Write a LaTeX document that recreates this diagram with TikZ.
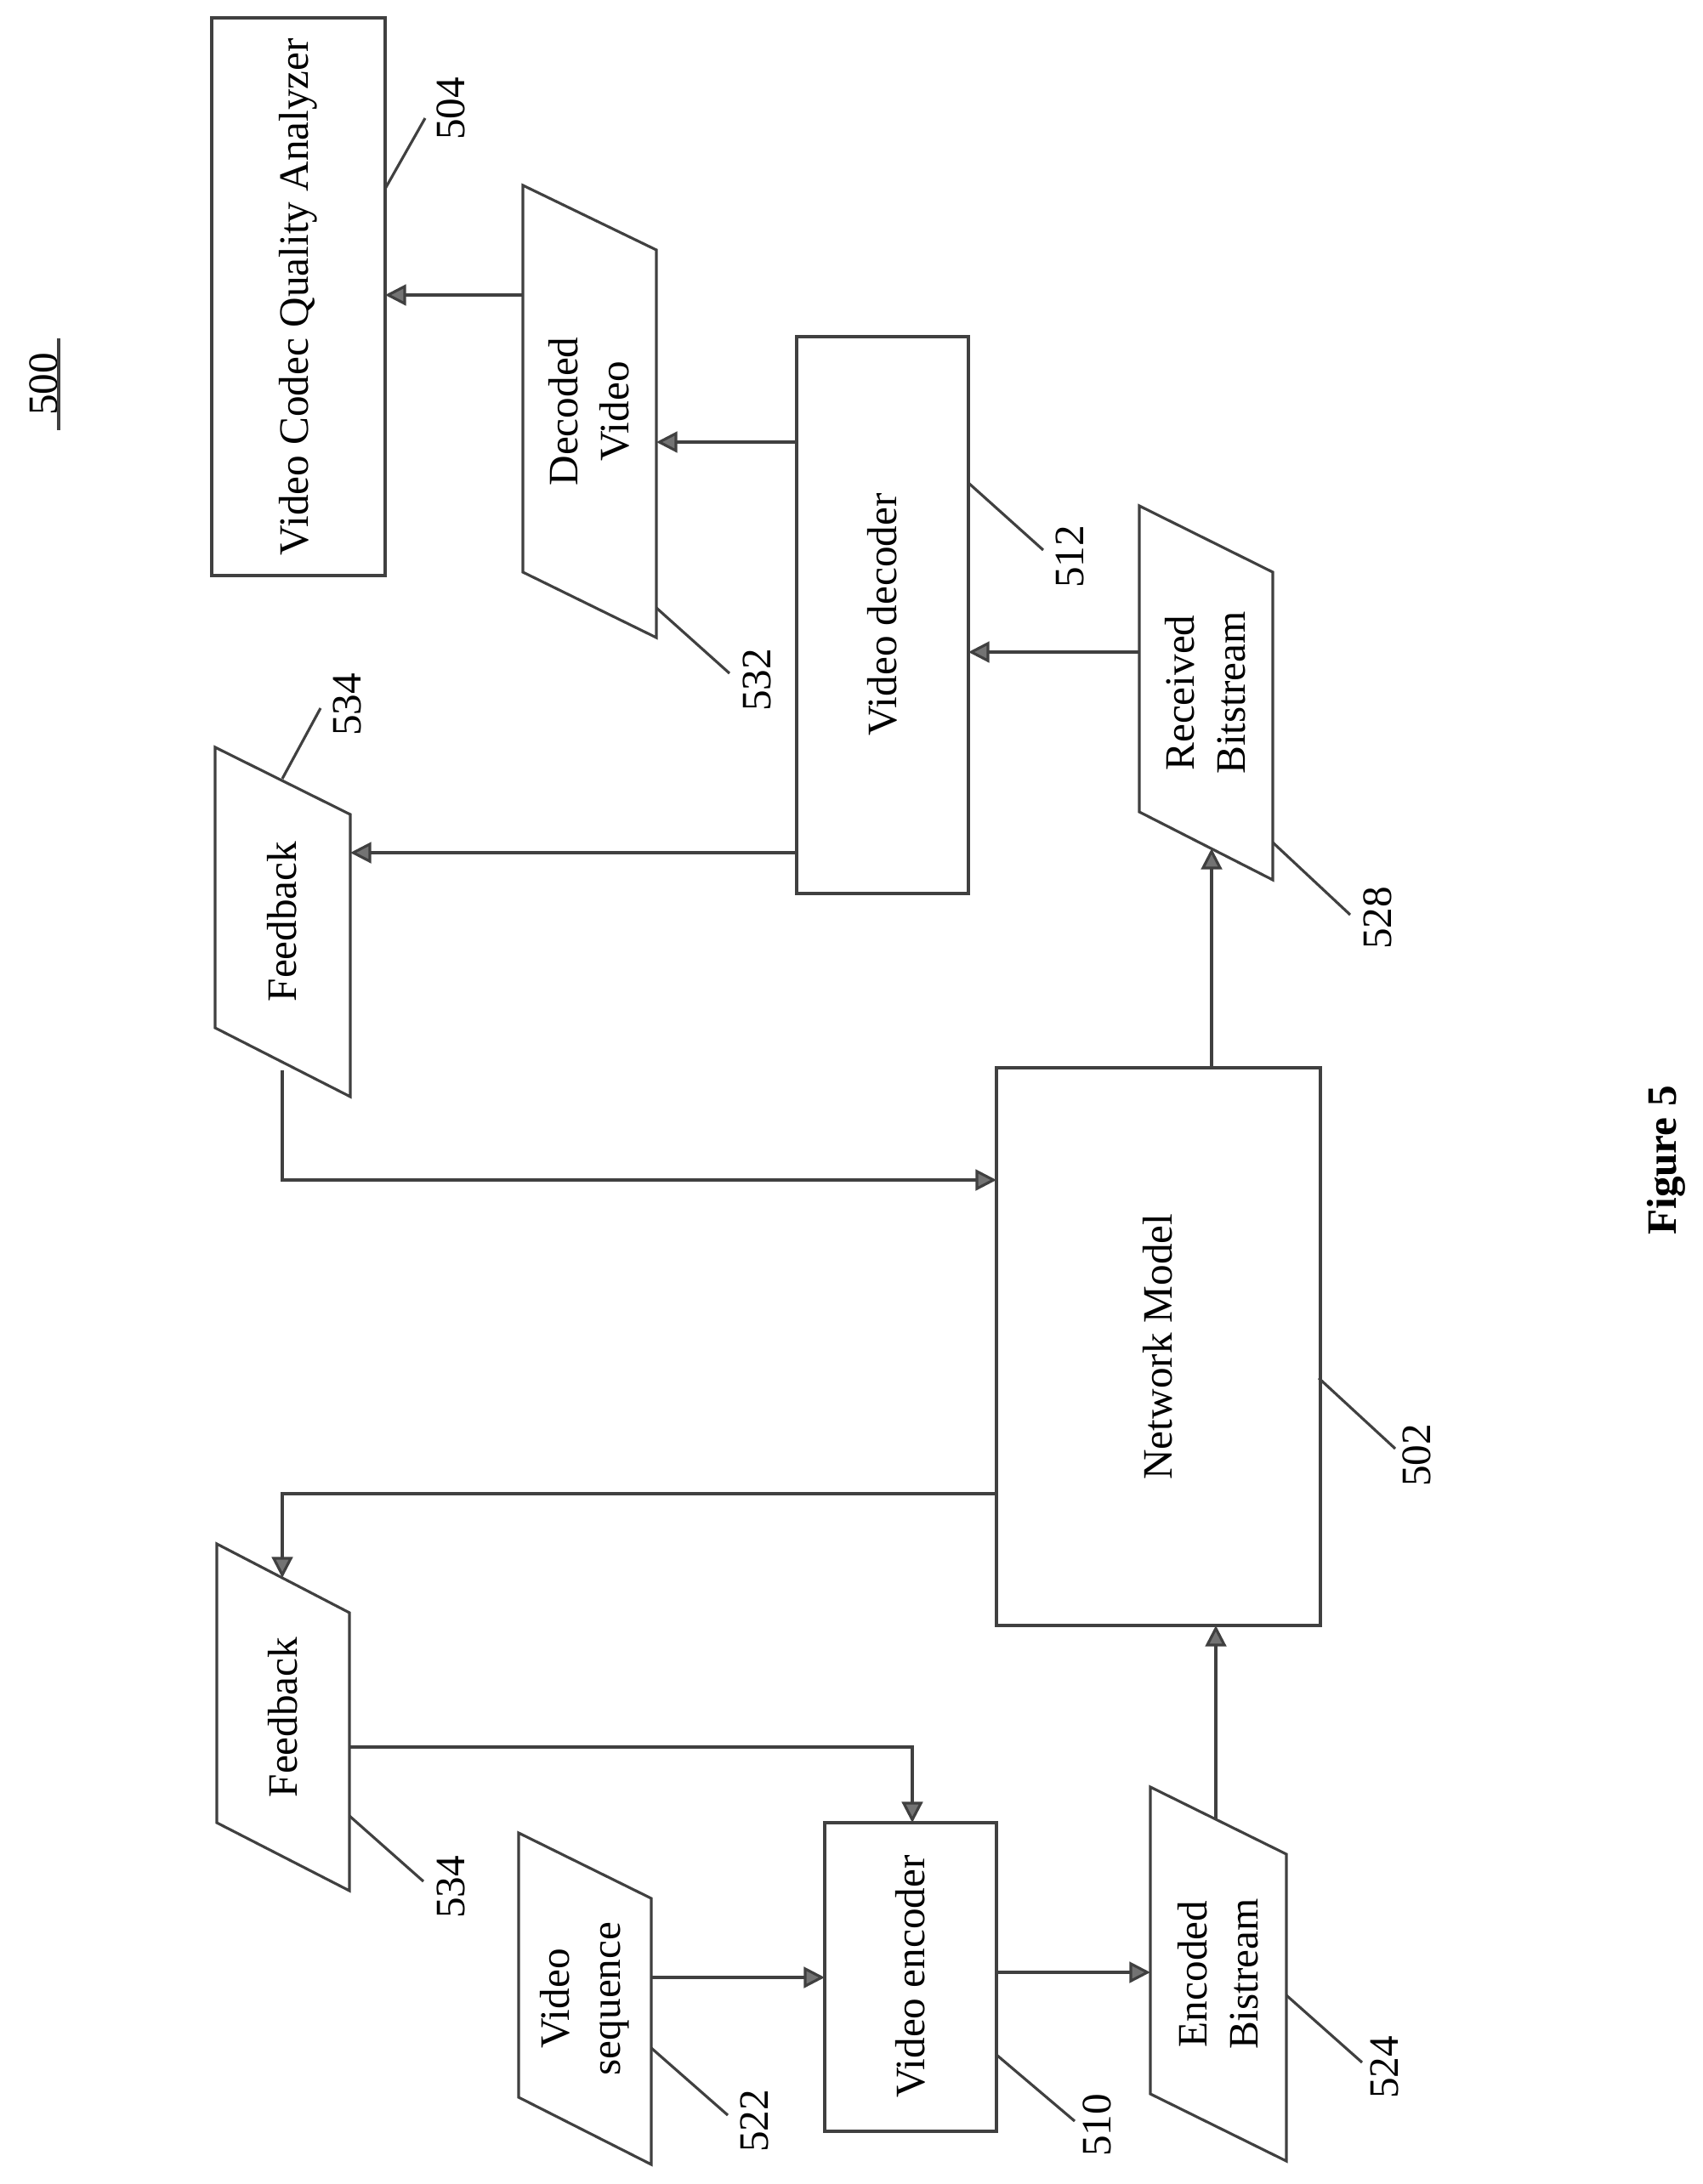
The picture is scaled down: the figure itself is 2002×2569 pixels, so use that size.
\documentclass[tikz,border=0pt]{standalone}
\usepackage{fontspec}
\setmainfont{Liberation Serif}
\usetikzlibrary{arrows.meta}
\begin{document}
\begin{tikzpicture}[x={(0.01cm,0)},y={(0,-0.01cm)},
  ln/.style={draw=black!75,line width=0.9pt},
  arr/.style={ln,-{Triangle[length=7pt,width=7pt,fill=black!55]}},
  txt/.style={rotate=90,font=\fontsize{14}{17}\selectfont,align=center,inner sep=0pt},
  num/.style={rotate=90,font=\fontsize{14}{17}\selectfont,inner sep=0pt}]
\useasboundingbox (0,0) rectangle (2002,2569);
% 500
\node[num] (l500) at (51,452) {500};
\draw[ln] (69,398) -- (69,506);
% boxes
\draw[ln] (249,21) rectangle (453,677);
\node[txt] (vcqa) at (351,349) {Video Codec Quality Analyzer};
\draw[ln] (937,396) rectangle (1139,1051);
\node[txt] (dec) at (1038,723) {Video decoder};
\draw[ln] (1172,1256) rectangle (1553,1912);
\node[txt] (nm) at (1362,1584) {Network Model};
\draw[ln] (970,2144) rectangle (1172,2507);
\node[txt] (enc) at (1071,2325) {Video encoder};
% parallelograms
\draw[ln] (615,218) -- (772,294) -- (772,750) -- (615,673) -- cycle;
\node[txt] (dv) at (693,484) {Decoded\\Video};
\draw[ln] (1340,595) -- (1497,673) -- (1497,1035) -- (1340,955) -- cycle;
\node[txt] (rb) at (1418,815) {Received\\Bitstream};
\draw[ln] (253,879) -- (412,958) -- (412,1290) -- (253,1209) -- cycle;
\node[txt] (fb1) at (332,1084) {Feedback};
\draw[ln] (255,1816) -- (411,1897) -- (411,2224) -- (255,2144) -- cycle;
\node[txt] (fb2) at (333,2020) {Feedback};
\draw[ln] (610,2156) -- (766,2233) -- (766,2546) -- (610,2467) -- cycle;
\node[txt] (vs) at (688,2351) {Video\\sequence};
\draw[ln] (1353,2102) -- (1513,2181) -- (1513,2542) -- (1353,2463) -- cycle;
\node[txt] (eb) at (1433,2322) {Encoded\\Bistream};
% connector end points
\coordinate (a1) at (615,347); \coordinate (a2) at (453,347);
\coordinate (b1) at (937,520); \coordinate (b2) at (772,520);
\coordinate (c1) at (1340,767); \coordinate (c2) at (1139,767);
\coordinate (d1) at (937,1003); \coordinate (d2) at (412,1003);
\coordinate (e1) at (1425,1256); \coordinate (e2) at (1425,998);
\coordinate (f1) at (332,1259); \coordinate (f2) at (1172,1388);
\coordinate (g1) at (1172,1757); \coordinate (g2) at (332,1856);
\coordinate (h1) at (411,2055); \coordinate (h2) at (1073,2144);
\coordinate (i1) at (766,2326); \coordinate (i2) at (970,2326);
\coordinate (j1) at (1172,2320); \coordinate (j2) at (1353,2320);
\coordinate (k1) at (1430,2140); \coordinate (k2) at (1430,1912);
\draw[arr] (a1) -- (a2);
\draw[arr] (b1) -- (b2);
\draw[arr] (c1) -- (c2);
\draw[arr] (d1) -- (d2);
\draw[arr] (e1) -- (e2);
\draw[arr] (f1) |- (f2);
\draw[arr] (g1) -| (g2);
\draw[arr] (h1) -| (h2);
\draw[arr] (i1) -- (i2);
\draw[arr] (j1) -- (j2);
\draw[arr] (k1) -- (k2);
% leaders and labels
\draw[ln] (453,222) -- (500,139); \node[num] (l504) at (530,128) {504};
\draw[ln] (772,715) -- (858,792); \node[num] (l532) at (890,800) {532};
\draw[ln] (332,916) -- (377,833); \node[num] (l534a) at (408,829) {534};
\draw[ln] (1139,568) -- (1227,647); \node[num] (l512) at (1258,655) {512};
\draw[ln] (1497,991) -- (1588,1076); \node[num] (l528) at (1620,1080) {528};
\draw[ln] (1551,1621) -- (1641,1704); \node[num] (l502) at (1666,1712) {502};
\draw[ln] (411,2136) -- (498,2213); \node[num] (l534b) at (530,2220) {534};
\draw[ln] (766,2409) -- (856,2488); \node[num] (l522) at (887,2495) {522};
\draw[ln] (1172,2417) -- (1264,2495); \node[num] (l510) at (1290,2500) {510};
\draw[ln] (1513,2347) -- (1602,2426); \node[num] (l524) at (1628,2432) {524};
\node[num,font=\bfseries\fontsize{14}{17}\selectfont] (fig) at (1960,1365) {Figure 5};
\end{tikzpicture}
\end{document}
